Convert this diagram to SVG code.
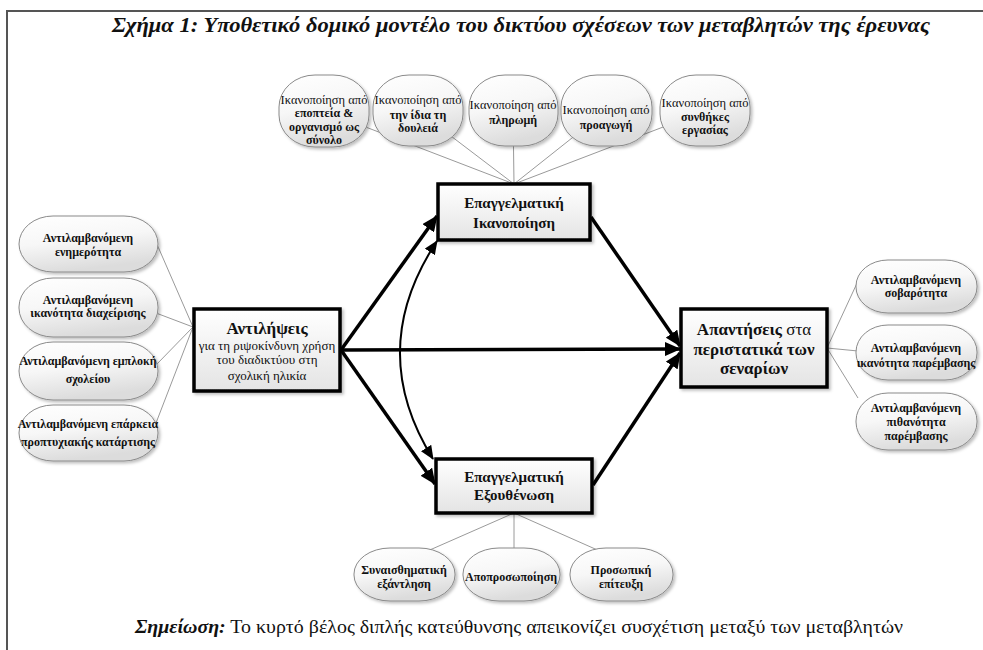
<svg xmlns="http://www.w3.org/2000/svg" width="983" height="650" viewBox="0 0 983 650" font-family="'Liberation Serif', serif">
<defs>
<linearGradient id="gp" x1="0" y1="0" x2="0.3" y2="1">
<stop offset="0" stop-color="#ffffff"/><stop offset="0.5" stop-color="#f7f7f7"/><stop offset="1" stop-color="#dcdcdc"/>
</linearGradient>
<linearGradient id="gb" x1="0" y1="0" x2="0" y2="1">
<stop offset="0" stop-color="#ffffff"/><stop offset="1" stop-color="#e4e4e4"/>
</linearGradient>
<filter id="sh" x="-20%" y="-20%" width="150%" height="150%">
<feDropShadow dx="2" dy="2" stdDeviation="1.5" flood-color="#000" flood-opacity="0.25"/>
</filter>
<marker id="ah" markerUnits="userSpaceOnUse" markerWidth="16" markerHeight="14" refX="15" refY="7" orient="auto">
<path d="M0,0 L16,7 L0,14 z" fill="#000"/>
</marker>
<marker id="ah2" markerUnits="userSpaceOnUse" markerWidth="14" markerHeight="12" refX="13" refY="6" orient="auto-start-reverse">
<path d="M0,0 L14,6 L0,12 z" fill="#000"/>
</marker>
</defs>
<style>
.pill{fill:url(#gp);stroke:#8a8a8a;stroke-width:1;filter:url(#sh)}
.box{fill:url(#gb);stroke:#000;stroke-width:3.5;filter:url(#sh)}
.thin{stroke:#9a9a9a;stroke-width:1;fill:none}
.thick{stroke:#000;stroke-width:3.5;fill:none;marker-end:url(#ah)}
.curve{stroke:#000;stroke-width:2;fill:none;marker-start:url(#ah2);marker-end:url(#ah2)}
text{fill:#111;text-anchor:middle}
.s{font-size:12px;font-weight:bold}
.r{font-size:12.5px;font-weight:normal}
.b{font-size:15px;font-weight:bold}
</style>
<rect x="0" y="0" width="983" height="650" fill="#fff"/>
<path d="M7,650 L7,11 L983,11" fill="none" stroke="#555" stroke-width="2"/>
<text x="521" y="32" style="font-size:20px;font-weight:bold;font-style:italic" textLength="818" lengthAdjust="spacingAndGlyphs">Σχήμα 1: Υποθετικό δομικό μοντέλο του δικτύου σχέσεων των μεταβλητών της έρευνας</text>

<g id="connectors">
<line class="thin" x1="324" y1="111" x2="514" y2="184"/>
<line class="thin" x1="418" y1="111" x2="514" y2="184"/>
<line class="thin" x1="513" y1="111" x2="514" y2="184"/>
<line class="thin" x1="606" y1="111" x2="514" y2="184"/>
<line class="thin" x1="705" y1="111" x2="514" y2="184"/>
<line class="thin" x1="156" y1="242" x2="193" y2="327"/>
<line class="thin" x1="156" y1="313" x2="193" y2="327"/>
<line class="thin" x1="156" y1="365" x2="193" y2="327"/>
<line class="thin" x1="156" y1="423" x2="193" y2="327"/>
<line class="thin" x1="827" y1="348" x2="858" y2="281"/>
<line class="thin" x1="827" y1="348" x2="858" y2="351"/>
<line class="thin" x1="827" y1="348" x2="858" y2="398"/>
<line class="thin" x1="514" y1="513" x2="407" y2="560"/>
<line class="thin" x1="514" y1="513" x2="514" y2="560"/>
<line class="thin" x1="514" y1="513" x2="620" y2="560"/>
<line class="thick" x1="341" y1="350" x2="437" y2="216"/>
<line class="thick" x1="341" y1="350" x2="435" y2="484"/>
<line class="thick" x1="341" y1="350" x2="680" y2="349"/>
<line class="thick" x1="591" y1="217" x2="680" y2="346"/>
<line class="thick" x1="593" y1="485" x2="680" y2="353"/>
<path class="curve" d="M437,241 Q365,350 433,459"/>
</g>

<g id="n-top1"><rect class="pill" x="279" y="75" width="90" height="72" rx="36" ry="32"/>
<text class="r" x="324" y="104">Ικανοποίηση από</text><text class="s" x="324" y="117">εποπτεία &amp;</text><text class="s" x="324" y="131">οργανισμό ως</text><text class="s" x="324" y="144">σύνολο</text></g>
<g id="n-top2"><rect class="pill" x="373" y="75" width="90" height="71" rx="36" ry="32"/>
<text class="r" x="418" y="104">Ικανοποίηση από</text><text class="s" x="418" y="119">την ίδια τη</text><text class="s" x="418" y="132">δουλειά</text></g>
<g id="n-top3"><rect class="pill" x="469" y="75" width="89" height="71" rx="36" ry="32"/>
<text class="r" x="513" y="109">Ικανοποίηση από</text><text class="s" x="513" y="124">πληρωμή</text></g>
<g id="n-top4"><rect class="pill" x="561" y="75" width="91" height="71" rx="36" ry="32"/>
<text class="r" x="606" y="114">Ικανοποίηση από</text><text class="s" x="606" y="129">προαγωγή</text></g>
<g id="n-top5"><rect class="pill" x="660" y="75" width="90" height="71" rx="36" ry="32"/>
<text class="r" x="705" y="107">Ικανοποίηση από</text><text class="s" x="705" y="121">συνθήκες</text><text class="s" x="705" y="134">εργασίας</text></g>

<g id="n-left1"><rect class="pill" x="19" y="216" width="139" height="56" rx="34" ry="28"/>
<text class="s" x="88" y="242">Αντιλαμβανόμενη</text><text class="s" x="88" y="256">ενημερότητα</text></g>
<g id="n-left2"><rect class="pill" x="19" y="278" width="139" height="59" rx="34" ry="29"/>
<text class="s" x="88" y="304">Αντιλαμβανόμενη</text><text class="s" x="88" y="317">ικανότητα διαχείρισης</text></g>
<g id="n-left3"><rect class="pill" x="19" y="342" width="139" height="58" rx="34" ry="29"/>
<text class="s" x="88" y="365">Αντιλαμβανόμενη εμπλοκή</text><text class="s" x="88" y="383">σχολείου</text></g>
<g id="n-left4"><rect class="pill" x="19" y="405" width="139" height="56" rx="34" ry="28"/>
<text class="s" x="88" y="428">Αντιλαμβανόμενη επάρκεια</text><text class="s" x="88" y="446">προπτυχιακής κατάρτισης</text></g>

<g id="n-antil"><rect class="box" x="194" y="309" width="146" height="82"/>
<text x="267" y="334" style="font-size:17px;font-weight:bold">Αντιλήψεις</text>
<text x="267" y="350" style="font-size:13px">για τη ριψοκίνδυνη χρήση</text>
<text x="267" y="364" style="font-size:13px">του διαδικτύου στη</text>
<text x="267" y="380" style="font-size:13px">σχολική ηλικία</text></g>

<g id="n-ikan"><rect class="box" x="438" y="184" width="152" height="56"/>
<text class="b" x="514" y="208">Επαγγελματική</text><text class="b" x="514" y="228">Ικανοποίηση</text></g>

<g id="n-exou"><rect class="box" x="436" y="459" width="156" height="54"/>
<text class="b" x="514" y="482">Επαγγελματική</text><text class="b" x="514" y="500">Εξουθένωση</text></g>

<g id="n-apant"><rect class="box" x="681" y="309" width="146" height="78"/>
<text x="754" y="335" style="font-size:17px;font-weight:bold">Απαντήσεις <tspan font-weight="normal">στα</tspan></text>
<text x="754" y="355" style="font-size:17px;font-weight:bold">περιστατικά των</text>
<text x="754" y="374" style="font-size:17px;font-weight:bold">σεναρίων</text></g>

<g id="n-right1"><rect class="pill" x="856" y="260" width="121" height="53" rx="32" ry="26"/>
<text class="s" x="916" y="284">Αντιλαμβανόμενη</text><text class="s" x="916" y="297">σοβαρότητα</text></g>
<g id="n-right2"><rect class="pill" x="856" y="325" width="121" height="55" rx="32" ry="27"/>
<text class="s" x="916" y="352">Αντιλαμβανόμενη</text><text class="s" x="916" y="367">ικανότητα παρέμβασης</text></g>
<g id="n-right3"><rect class="pill" x="856" y="393" width="121" height="57" rx="32" ry="28"/>
<text class="s" x="916" y="412">Αντιλαμβανόμενη</text><text class="s" x="916" y="426">πιθανότητα</text><text class="s" x="916" y="440">παρέμβασης</text></g>

<g id="n-bot1"><rect class="pill" x="354" y="548" width="101" height="53" rx="36" ry="26"/>
<text class="s" x="404" y="574">Συναισθηματική</text><text class="s" x="404" y="588">εξάντληση</text></g>
<g id="n-bot2"><rect class="pill" x="463" y="548" width="97" height="53" rx="36" ry="26"/>
<text class="s" x="511" y="581">Αποπροσωποίηση</text></g>
<g id="n-bot3"><rect class="pill" x="570" y="548" width="103" height="53" rx="36" ry="26"/>
<text class="s" x="621" y="574">Προσωπική</text><text class="s" x="621" y="588">επίτευξη</text></g>

<text x="519" y="633" style="font-size:19px" textLength="768" lengthAdjust="spacingAndGlyphs"><tspan font-weight="bold" font-style="italic">Σημείωση:</tspan> Το κυρτό βέλος διπλής κατεύθυνσης απεικονίζει συσχέτιση μεταξύ των μεταβλητών</text>
</svg>
